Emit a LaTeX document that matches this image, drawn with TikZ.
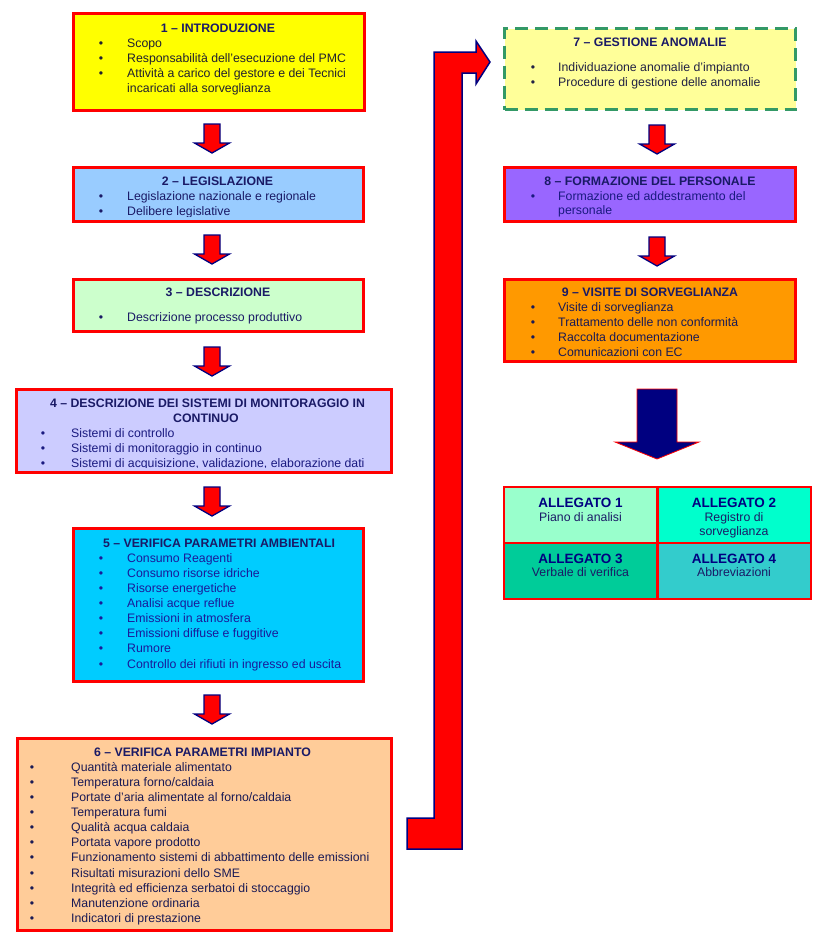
\documentclass[tikz,border=0pt]{standalone}
\usepackage{fontspec}
\setmainfont{Liberation Sans}
\usetikzlibrary{calc}
\definecolor{boxred}{HTML}{FF0000}
\definecolor{navyc}{HTML}{000080}
\definecolor{ttlcol}{HTML}{1A1A66}
\definecolor{cA}{HTML}{FFFF00}
\definecolor{cB}{HTML}{99CCFF}
\definecolor{cC}{HTML}{CCFFCC}
\definecolor{cD}{HTML}{CCCCFF}
\definecolor{cE}{HTML}{00CCFF}
\definecolor{cF}{HTML}{FFCC99}
\definecolor{cG}{HTML}{FFFF99}
\definecolor{cH}{HTML}{9966FF}
\definecolor{cI}{HTML}{FF9900}
\definecolor{alA}{HTML}{99FFCC}
\definecolor{alB}{HTML}{00FFCC}
\definecolor{alC}{HTML}{00CC99}
\definecolor{alD}{HTML}{33CCCC}
\definecolor{dgreen}{HTML}{339966}
\definecolor{tA}{HTML}{202030}
\definecolor{tB}{HTML}{1A1A66}
\definecolor{tD}{HTML}{1A1A80}
\definecolor{tE}{HTML}{1A1A99}
\definecolor{tF}{HTML}{1A1A55}
\definecolor{tG}{HTML}{222244}
\definecolor{tH}{HTML}{1A1A80}
\newcommand{\blist}[6]{%
  \foreach \t [count=\i] in {#6} {
    \pgfmathsetmacro{\yy}{#5+15.15*(\i-1)+4.3}
    \node[itm, text=#2, anchor=base] (#1b\i) at (#3,\yy) {•};
    \node[itm, text=#2, anchor=base west] (#1t\i) at (#4,\yy) {\t};
  }}
\begin{document}
\begin{tikzpicture}[x=1pt,y=-1pt,
  box/.style={draw=boxred, line width=3pt, inner sep=0pt},
  cell/.style={draw=boxred, line width=2pt, inner sep=0pt, minimum width=153pt, minimum height=56pt},
  ttl/.style={font=\fontsize{12.3}{14}\selectfont\bfseries, text=ttlcol, inner sep=0pt, anchor=base},
  itm/.style={font=\fontsize{12.3}{14}\selectfont, inner sep=0pt},
  altl/.style={font=\fontsize{13.5}{15}\selectfont\bfseries, text=navyc, inner sep=0pt, anchor=base},
  alsub/.style={font=\fontsize{12.3}{14}\selectfont, text=tB, inner sep=0pt, anchor=base},
  downarr/.pic={\filldraw[fill=red, draw=navyc, line width=1.3pt, line join=miter]
     (-8,0) -- (8,0) -- (8,19) -- (17.5,19) -- (0,29) -- (-17.5,19) -- (-8,19) -- cycle;}
]
\useasboundingbox (0,0) rectangle (820,945);

% ---------- big return arrow ----------
\filldraw[fill=red, draw=navyc, line width=1.5pt, line join=miter]
  (407,849) -- (462,849) -- (462,73) -- (476,73) -- (476,84) -- (490,62)
  -- (476,41) -- (476,52) -- (434,52) -- (434,818) -- (407,818) -- cycle;

% ---------- boxes ----------
\node[box, fill=cA, minimum width=291pt, minimum height=97pt] (b1) at (219,62) {};
\node[box, fill=cB, minimum width=290pt, minimum height=54pt] (b2) at (218.5,194.5) {};
\node[box, fill=cC, minimum width=290pt, minimum height=52pt] (b3) at (218.5,305.5) {};
\node[box, fill=cD, minimum width=375pt, minimum height=83pt] (b4) at (204,431) {};
\node[box, fill=cE, minimum width=290pt, minimum height=153pt] (b5) at (218.5,605) {};
\node[box, fill=cF, minimum width=374pt, minimum height=192pt] (b6) at (204.5,834.5) {};
\node[box, draw=dgreen, dash pattern=on 13pt off 7pt, fill=cG, minimum width=291pt, minimum height=81pt] (b7) at (650,69) {};
\node[box, fill=cH, minimum width=291pt, minimum height=54pt] (b8) at (650,194.5) {};
\node[box, fill=cI, minimum width=291pt, minimum height=82pt] (b9) at (650,320.5) {};

% ---------- small arrows ----------
\pic at (212,124) {downarr};
\pic at (212,235) {downarr};
\pic at (212,347) {downarr};
\pic at (212,487) {downarr};
\pic at (212,695) {downarr};
\pic at (657,125) {downarr};
\pic at (657,237) {downarr};

% ---------- navy arrow ----------
\filldraw[fill=navyc, draw=boxred, line width=0.8pt, line join=miter]
  (637,389) -- (677,389) -- (677,442) -- (699,442) -- (657,459) -- (615,442) -- (637,442) -- cycle;

% ---------- titles ----------
\node[ttl] (h1) at (218,32) {1 – INTRODUZIONE};
\node[ttl] (h2) at (217.5,185.3) {2 – LEGISLAZIONE};
\node[ttl] (h3) at (218,296) {3 – DESCRIZIONE};
\node[ttl] (h4a) at (207.5,407.6) {4 – DESCRIZIONE DEI SISTEMI DI MONITORAGGIO IN};
\node[ttl] (h4b) at (206,422.6) {CONTINUO};
\node[ttl] (h5) at (219,547.6) {5 – VERIFICA PARAMETRI AMBIENTALI};
\node[ttl] (h6) at (202.5,756) {6 – VERIFICA PARAMETRI IMPIANTO};
\node[ttl] (h7) at (650,46) {7 – GESTIONE ANOMALIE};
\node[ttl] (h8) at (650,185.3) {8 – FORMAZIONE DEL PERSONALE};
\node[ttl] (h9) at (650,296) {9 – VISITE DI SORVEGLIANZA};

% ---------- items ----------
\blist{i1}{tA}{101}{127}{43}{Scopo, Responsabilità dell’esecuzione del PMC, Attività a carico del gestore e dei Tecnici}
\node[itm, text=tA, anchor=base west] (i1c) at (127,92.6) {incaricati alla sorveglianza};
\begin{scope}
  \clip (0,0) rectangle (820,216.7);
  \blist{i2}{tB}{101}{127}{195.8}{Legislazione nazionale e regionale, Delibere legislative}
\end{scope}
\blist{i3}{tB}{101}{127}{317}{Descrizione processo produttivo}
\begin{scope}
  \clip (0,0) rectangle (820,467.7);
  \blist{i4}{tD}{43}{71}{432.7}{Sistemi di controllo, Sistemi di monitoraggio in continuo, {Sistemi di acquisizione, validazione, elaborazione dati}}
\end{scope}
\blist{i5}{tE}{101}{127}{557.7}{Consumo Reagenti, Consumo risorse idriche, Risorse energetiche, Analisi acque reflue, Emissioni in atmosfera, Emissioni diffuse e fuggitive, Rumore, Controllo dei rifiuti in ingresso ed uscita}
\blist{i6}{tF}{32}{71}{766.7}{Quantità materiale alimentato, Temperatura forno/caldaia, Portate d’aria alimentate al forno/caldaia, Temperatura fumi, Qualità acqua caldaia, Portata vapore prodotto, Funzionamento sistemi di abbattimento delle emissioni, Risultati misurazioni dello SME, Integrità ed efficienza serbatoi di stoccaggio, Manutenzione ordinaria, Indicatori di prestazione}
\blist{i7}{tG}{533}{558}{66.7}{Individuazione anomalie d’impianto, Procedure di gestione delle anomalie}
\blist{i8}{tH}{533}{558}{196}{Formazione ed addestramento del}
\node[itm, text=tH, anchor=base west] (i8c) at (558,214.5) {personale};
\begin{scope}
  \clip (0,0) rectangle (820,356.3);
  \blist{i9}{tF}{533}{558}{307}{Visite di sorveglianza, Trattamento delle non conformità, Raccolta documentazione, Comunicazioni con EC}
\end{scope}

% ---------- allegati ----------
\node[cell, fill=alA] (a1) at (580.5,515) {};
\node[cell, fill=alB] (a2) at (734,515) {};
\node[cell, fill=alC] (a3) at (580.5,571) {};
\node[cell, fill=alD] (a4) at (734,571) {};
\node[altl] (a1t) at (580.5,507.9) {ALLEGATO 1};
\node[alsub] (a1s) at (580.5,521.3) {Piano di analisi};
\node[altl] (a2t) at (734,507.9) {ALLEGATO 2};
\node[alsub] (a2s) at (734,521.3) {Registro di};
\node[alsub] (a2u) at (734,535.3) {sorveglianza};
\node[altl] (a3t) at (580.5,563.2) {ALLEGATO 3};
\node[alsub] (a3s) at (580.5,576.6) {Verbale di verifica};
\node[altl] (a4t) at (734,563.2) {ALLEGATO 4};
\node[alsub] (a4s) at (734,576.6) {Abbreviazioni};
\end{tikzpicture}
\end{document}
